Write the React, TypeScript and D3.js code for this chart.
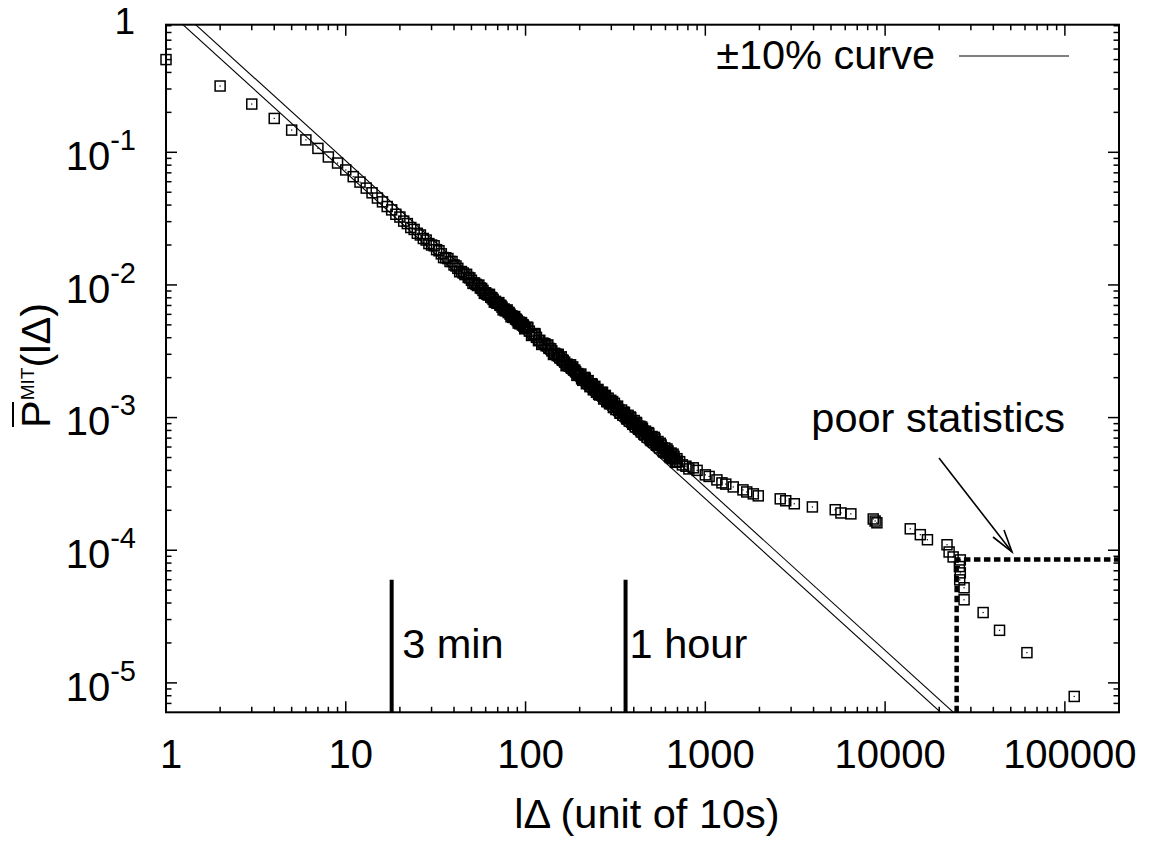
import React from 'react';
import * as d3 from 'd3';

// ---------- data ----------
const headLags = [1, 2, 3, 4, 5, 6, 7, 8, 9, 10];
const headP = [0.5, 0.316, 0.231, 0.18, 0.147, 0.124, 0.107, 0.0922, 0.083, 0.0736];

const bandLags = [
  11, 12, 13, 14, 15, 16, 17, 18, 19, 20, 21, 22, 23, 24, 25, 26, 27, 28, 29, 30,
  32, 34, 36, 38, 40, 42, 44, 46, 48, 50, 52, 54, 56, 58, 60, 62, 64, 66, 68, 70,
  72, 74, 76, 78, 80, 82, 84, 86, 88, 90, 92, 94, 96, 98, 100,
  105, 110, 115, 120, 125, 130, 135, 140, 145, 150, 155, 160, 165, 170, 175, 180, 185, 190, 195, 200,
  210, 220, 230, 240, 250, 260, 270, 280, 290, 300,
  315, 330, 345, 360, 375, 390, 405, 420, 435, 450, 470, 490, 510, 530, 550, 575, 600, 625, 650, 675, 700,
];
const bandP = [
  0.0655, 0.0596, 0.0537, 0.0495, 0.0452, 0.0423, 0.039, 0.0368, 0.0341, 0.0325,
  0.0303, 0.029, 0.0271, 0.0262, 0.0245, 0.0238, 0.0224, 0.0218, 0.0205, 0.02,
  0.01845, 0.01716, 0.01603, 0.01503, 0.01414, 0.01334, 0.01262, 0.01197, 0.01139, 0.01084,
  0.01035, 0.0099, 0.00948, 0.00909, 0.00873, 0.00839, 0.00808, 0.00779, 0.00752, 0.00727,
  0.00703, 0.0068, 0.00659, 0.00639, 0.0062, 0.00602, 0.00585, 0.00569, 0.00553, 0.00539,
  0.00525, 0.00512, 0.00499, 0.00487, 0.00475,
  0.004486, 0.004243, 0.004025, 0.003825, 0.003645, 0.003479, 0.003326, 0.003185, 0.003053, 0.002934,
  0.002822, 0.002717, 0.002619, 0.002528, 0.002442, 0.002361, 0.002285, 0.002214, 0.002147, 0.002083,
  0.001966, 0.00186, 0.001764, 0.001677, 0.001597, 0.001524, 0.001457, 0.001395, 0.001338, 0.001286,
  0.001213, 0.001148, 0.001089, 0.001035, 0.000986, 0.000941, 0.0009, 0.000862, 0.000826, 0.000794,
  0.000754, 0.000717, 0.000684, 0.000653, 0.000625, 0.000593, 0.000563, 0.000537, 0.000512, 0.00049, 0.000469,
];

const scatterLags = [
  31, 33, 35, 37, 39, 41, 43, 45, 47, 49, 51, 53, 55, 57, 59, 61, 63, 65, 67, 69, 71, 73, 75, 77, 79,
  81, 83, 85, 87, 89, 91, 93, 95, 97, 99,
  102, 112, 118, 128, 138, 148, 152, 162, 172, 178, 188, 198, 205, 215, 225, 235, 245, 255, 262, 268,
  275, 285, 295, 305, 322, 338, 352, 368, 382, 398, 412,
  428, 442, 460, 480, 500, 520, 540, 562, 588, 612, 638, 662, 688,
];
const scatterP = [
  0.01973, 0.0181, 0.01608, 0.0158, 0.01501, 0.0139, 0.01258, 0.0123, 0.01202, 0.0113, 0.01027, 0.0101,
  0.00997, 0.0094, 0.00864, 0.0085, 0.00849, 0.008, 0.00742, 0.0073, 0.00736, 0.007, 0.00649, 0.0064,
  0.00648, 0.0062, 0.00575, 0.0057, 0.00578, 0.0055, 0.00516, 0.0051, 0.0052, 0.005, 0.00467,
  0.0048, 0.0043, 0.0038, 0.0036, 0.0033, 0.003, 0.003, 0.0027, 0.0025, 0.0025, 0.00228, 0.0021,
  0.00196, 0.00198, 0.0018, 0.00178, 0.00162, 0.0015, 0.0015, 0.00155,
  0.00145, 0.00132, 0.0013, 0.00132, 0.0012, 0.00108, 0.0011, 0.00098, 0.00101, 0.00089, 0.00092,
  0.00082, 0.00085, 0.00074, 0.00077, 0.00067, 0.00071, 0.00062, 0.00064, 0.00055, 0.00058, 0.0005,
  0.00053, 0.00046,
];

const scatter2Lags = [
  103, 108, 113, 123, 133, 143, 158, 168, 183, 193, 203, 208, 213, 218, 223, 228, 233, 238, 243, 248,
  253, 258, 265, 272, 278, 283, 288, 293, 298, 308, 312, 318, 325, 335, 342, 348, 355, 365, 372, 378,
  385, 395, 402, 408, 415, 425, 432, 440, 447, 455, 465, 475, 485, 495, 505, 515, 525, 535, 545, 557,
  568, 582, 595, 606, 620, 632, 645, 657, 670, 682, 695,
];
const scatter2P = [
  0.00477, 0.00416, 0.00427, 0.00356, 0.00353, 0.00299, 0.00287, 0.00246, 0.00241, 0.00208, 0.00213,
  0.00191, 0.00201, 0.0018, 0.0019, 0.00171, 0.0018, 0.00162, 0.00172, 0.00155, 0.00163, 0.00148,
  0.00155, 0.00138, 0.00147, 0.00132, 0.0014, 0.00127, 0.00135, 0.00119, 0.00128, 0.00115, 0.00122,
  0.00108, 0.00114, 0.00104, 0.00109, 0.00098, 0.00104, 0.00094, 0.001, 0.00089, 0.00095, 0.00085,
  0.00091, 0.00082, 0.00086, 0.00078, 0.00083, 0.00075, 0.00079, 0.00071, 0.00076, 0.00068, 0.00072,
  0.00065, 0.00069, 0.00062, 0.00066, 0.00059, 0.00062, 0.00056, 0.00059, 0.00054, 0.00056, 0.00051,
  0.00054, 0.00049, 0.00051, 0.00046, 0.00049,
];

const tailLags = [
  720, 745, 780, 810, 857, 900, 1000, 1050, 1160, 1237, 1300, 1430, 1619, 1700, 1849, 1970,
  2610, 2800, 3125, 3940, 5280, 5680, 6450, 8590, 8800, 9000, 13800, 15700, 17200,
  22100, 22700, 23900, 26200, 25900, 26200, 26000, 27500, 27500,
  35100, 43300, 61500, 112700,
];
const tailP = [
  0.000465, 0.00044, 0.00043, 0.00041, 0.000418, 0.0004, 0.00037, 0.00036, 0.000339, 0.000322, 0.000315,
  0.0003, 0.000285, 0.000275, 0.000266, 0.000257, 0.000244, 0.000236, 0.000224, 0.000212, 0.000202,
  0.000191, 0.000188, 0.000172, 0.000166, 0.000161, 0.000145, 0.000131, 0.00012,
  0.00011, 0.000097, 0.000089, 0.0000845, 0.0000753, 0.0000675, 0.0000598, 0.0000521, 0.0000423,
  0.0000339, 0.0000249, 0.0000169, 0.0000079,
];

// ±10% power-law reference curve: P = C * l^alpha
const curveC = 1.33;
const curveAlpha = -1.23;
const curveFactors = [1.1, 0.9];

const xTickValues = [1, 10, 100, 1000, 10000, 100000];
const xTickLabels = ['1', '10', '100', '1000', '10000', '100000'];
const yTickExps = [-1, -2, -3, -4, -5];

const markerLags = [18, 360];
const markerLabels = ['3 min', '1 hour'];
const markerTop = 6.0e-5;

const cutoffLag = 25000;
const cutoffP = 8.5e-5;

// ---------- layout ----------
const W = 1149;
const H = 842;
const L = 166;
const R = 1119;
const T = 24.7;
const B = 712.3;
const FONT = '"Liberation Sans", Arial, Helvetica, sans-serif';
const FS = 40;   // tick labels
const FA = 41.5; // other text

const x = d3.scaleLog().domain([1, 2e5]).range([L, R]);
const y = d3.scaleLog().domain([0.916, 6.0e-6]).range([T, B]);

export default function App() {
  const points: [number, number][] = [];
  headLags.forEach((l, i) => points.push([l, headP[i]]));
  bandLags.forEach((l, i) => points.push([l, bandP[i]]));
  scatterLags.forEach((l, i) => points.push([l, scatterP[i]]));
  scatter2Lags.forEach((l, i) => points.push([l, scatter2P[i]]));
  tailLags.forEach((l, i) => points.push([l, tailP[i]]));

  const xMinor: number[] = [];
  for (let k = 0; k <= 5; k++) for (let m = 2; m <= 9; m++) {
    const v = m * Math.pow(10, k);
    if (v < 2e5) xMinor.push(v);
  }
  const yMinor: number[] = [];
  for (let k = -6; k <= -1; k++) for (let m = 2; m <= 9; m++) {
    const v = m * Math.pow(10, k);
    if (v > 6.0e-6 && v < 0.916) yMinor.push(v);
  }

  const line = d3.line<[number, number]>().x(d => x(d[0])).y(d => y(d[1]));
  const curveDomain = [1, 2e5];

  const S = 10;
  return (
    <svg width={W} height={H} style={{ position: 'absolute', left: 0, top: 0, background: '#fff' }}
      fontFamily={FONT}>
      <defs>
        <clipPath id="plotclip"><rect x={L} y={T} width={R - L} height={B - T} /></clipPath>
      </defs>
      <rect x={0} y={0} width={W} height={H} fill="#fff" />

      {/* ticks */}
      <g stroke="#000" strokeWidth={1.5}>
        {xTickValues.map(v => (
          <g key={'xt' + v}>
            <line x1={x(v)} x2={x(v)} y1={B} y2={B - 11} />
            <line x1={x(v)} x2={x(v)} y1={T} y2={T + 11} />
          </g>
        ))}
        {xMinor.map(v => (
          <g key={'xm' + v}>
            <line x1={x(v)} x2={x(v)} y1={B} y2={B - 5.5} />
            <line x1={x(v)} x2={x(v)} y1={T} y2={T + 5.5} />
          </g>
        ))}
        {yTickExps.map(e => (
          <g key={'yt' + e}>
            <line x1={L} x2={L + 11} y1={y(Math.pow(10, e))} y2={y(Math.pow(10, e))} />
            <line x1={R} x2={R - 11} y1={y(Math.pow(10, e))} y2={y(Math.pow(10, e))} />
          </g>
        ))}
        {yMinor.map(v => (
          <g key={'ym' + v}>
            <line x1={L} x2={L + 5.5} y1={y(v)} y2={y(v)} />
            <line x1={R} x2={R - 5.5} y1={y(v)} y2={y(v)} />
          </g>
        ))}
      </g>

      {/* ±10% curves */}
      <g clipPath="url(#plotclip)" fill="none" stroke="#000" strokeWidth={1.1}>
        {curveFactors.map(f => (
          <path key={'c' + f}
            d={line(curveDomain.map(l => [l, f * curveC * Math.pow(l, curveAlpha)]) as [number, number][]) || ''} />
        ))}
      </g>

      {/* time markers */}
      {markerLags.map((l, i) => (
        <g key={'mk' + l}>
          <line x1={x(l)} x2={x(l)} y1={y(markerTop)} y2={B} stroke="#000" strokeWidth={4} />
          <text x={x(l) + (i === 0 ? 10.5 : 4)} y={658} fontSize={FA}>{markerLabels[i]}</text>
        </g>
      ))}

      {/* cutoff dotted lines */}
      <path d={`M${x(cutoffLag)},${B}L${x(cutoffLag)},${y(cutoffP)}L${R},${y(cutoffP)}`}
        fill="none" stroke="#000" strokeWidth={4.5} strokeDasharray="6.5,3.5" />

      {/* data points */}
      <g>
        {points.map((p, i) => (
          <g key={'p' + i}>
            <rect x={x(p[0]) - S / 2} y={y(p[1]) - S / 2} width={S} height={S}
              fill="none" stroke="#000" strokeWidth={1.5} />
            <rect x={x(p[0]) - 0.6} y={y(p[1]) - 0.6} width={1.2} height={1.2} fill="#000" />
          </g>
        ))}
      </g>

      {/* border */}
      <rect x={L} y={T} width={R - L} height={B - T} fill="none" stroke="#000" strokeWidth={2} />

      {/* x tick labels */}
      {xTickValues.map((v, i) => (
        <text key={'xl' + v} x={x(v) + 5} y={768} fontSize={FS} textAnchor="middle">{xTickLabels[i]}</text>
      ))}

      {/* y tick labels */}
      <text x={135} y={34} fontSize={37} textAnchor="end">1</text>
      {yTickExps.map(e => (
        <text key={'yl' + e} x={136} y={y(Math.pow(10, e)) + 17.7} fontSize={FS} textAnchor="end">
          10<tspan dy={-20} fontSize={29}>{String(e)}</tspan>
        </text>
      ))}

      {/* axis labels */}
      <text x={647} y={828} fontSize={FA} textAnchor="middle">lΔ (unit of 10s)</text>
      <g transform="translate(50,428) rotate(-90)">
        <text x={0} y={0} fontSize={FA}>
          P<tspan dy={-16} fontSize={19}>MIT</tspan><tspan dy={16} fontSize={FA}>(lΔ)</tspan>
        </text>
        <line x1={1} x2={26} y1={-37} y2={-37} stroke="#000" strokeWidth={2} />
      </g>

      {/* legend */}
      <text x={935} y={69} fontSize={FA} textAnchor="end">±10% curve</text>
      <line x1={959} x2={1069} y1={56} y2={56} stroke="#000" strokeWidth={1.1} />

      {/* poor statistics annotation */}
      <text x={1065} y={432} fontSize={FA} textAnchor="end">poor statistics</text>
      <g stroke="#000" strokeWidth={1.6} fill="none">
        <line x1={939} y1={458} x2={1012} y2={552} />
        <polyline points="993,537 1012,552 1004,530" />
      </g>
    </svg>
  );
}
